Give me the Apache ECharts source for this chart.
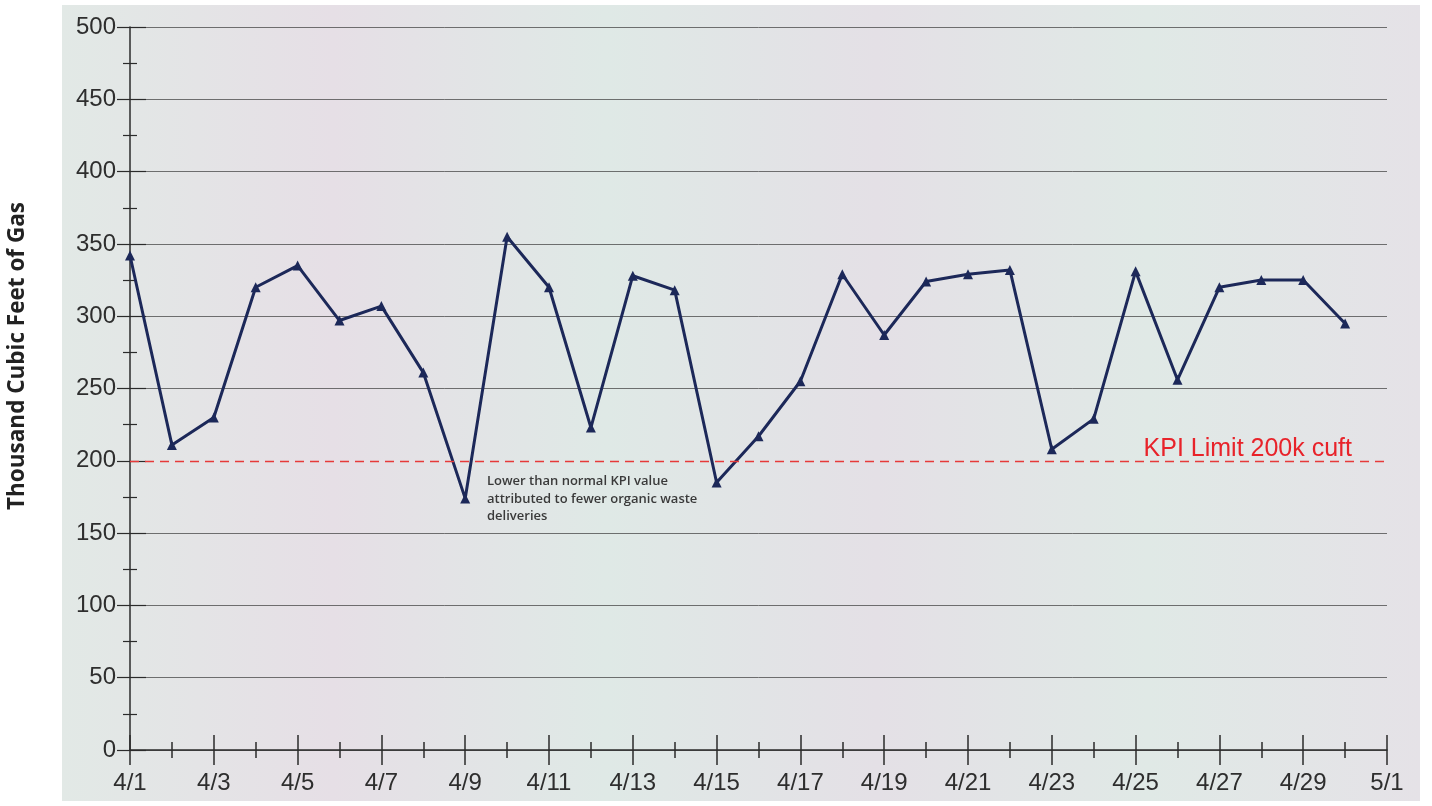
<!DOCTYPE html>
<html>
<head>
<meta charset="utf-8">
<script src="https://cdn.jsdelivr.net/npm/echarts@6/dist/echarts.min.js"></script>
<style>
  html, body { margin: 0; padding: 0; background: #fff; }
  #gasChart { width: 1432px; height: 806px; }
</style>
</head>
<body>
<div id="gasChart"></div>
<script>
// x axis tick labels (4/1 .. 5/1), one per day
const dayLabels = ['4/1','4/2','4/3','4/4','4/5','4/6','4/7','4/8','4/9','4/10',
    '4/11','4/12','4/13','4/14','4/15','4/16','4/17','4/18','4/19','4/20',
    '4/21','4/22','4/23','4/24','4/25','4/26','4/27','4/28','4/29','4/30','5/1'];

// daily gas production, thousand cubic feet (4/1 .. 4/30)
const gasValues = [342, 211, 230, 320, 335, 297, 307, 261, 174, 355,
    320, 223, 328, 318, 185, 217, 255, 329, 287, 324,
    329, 332, 208, 229, 331, 256, 320, 325, 325, 295];

const kpiLimit = 200;
const kpiLabel = 'KPI Limit 200k cuft';
const noteText = 'Lower than normal KPI value\nattributed to fewer organic waste\ndeliveries';
const yTitle = 'Thousand Cubic Feet of Gas';

const chartDom = document.getElementById('gasChart');
const myChart = echarts.init(chartDom);

const seriesData = gasValues.map((v, i) => [i, v]);
const axisColor = '#2b2b2b';
const gridColor = 'rgba(70,70,70,0.75)';
const labelFont = { fontFamily: '"Liberation Sans", Arial, sans-serif', fontSize: 24, color: '#2e2e2e' };

// grid line colours per tick (0..500), no grey line under the KPI limit
const splitColors = [0, 50, 100, 150, 200, 250, 300, 350, 400, 450, 500]
    .map(v => v === kpiLimit ? 'rgba(0,0,0,0)' : gridColor);

const option = {
    backgroundColor: '#ffffff',
    animation: false,
    graphic: [
        {
            type: 'rect',
            z: -10,
            shape: { x: 62, y: 5, width: 1358, height: 796 },
            style: {
                fill: {
                    type: 'linear', x: 0, y: 0, x2: 1, y2: 0,
                    colorStops: [
                        { offset: 0, color: '#e2e9e6' },
                        { offset: 0.2, color: '#e6dfe6' },
                        { offset: 0.4, color: '#dfe9e6' },
                        { offset: 0.6, color: '#e4e0e6' },
                        { offset: 0.8, color: '#e0e9e6' },
                        { offset: 1, color: '#e5e2e7' }
                    ]
                }
            }
        },
        {
            type: 'text',
            left: 487,
            top: 473,
            style: {
                text: noteText,
                fontFamily: '"Open Sans", sans-serif',
                fontWeight: 600,
                fontSize: 13,
                lineHeight: 17.5,
                fill: '#3a3a3a'
            }
        },
        {
            type: 'text',
            x: 18,
            y: 356,
            rotation: Math.PI / 2,
            style: {
                text: yTitle,
                fontFamily: '"Open Sans", sans-serif',
                fontWeight: 'bold',
                fontSize: 22.5,
                fill: '#222',
                align: 'center',
                verticalAlign: 'middle'
            }
        }
    ],
    grid: { left: 130, right: 45, top: 27, bottom: 56 },
    xAxis: [
        {
            type: 'value',
            min: 0,
            max: 30,
            interval: 2,
            axisLine: { lineStyle: { color: axisColor, width: 1.5 } },
            axisTick: { length: 15, lineStyle: { color: axisColor, width: 1.5 } },
            minorTick: { show: true, splitNumber: 2, length: 8, lineStyle: { color: axisColor, width: 1.5 } },
            splitLine: { show: false },
            axisLabel: {
                ...labelFont,
                margin: 21,
                formatter: (v) => dayLabels[v]
            }
        },
        {
            type: 'value',
            min: 0,
            max: 30,
            interval: 2,
            position: 'bottom',
            axisLine: { show: false },
            axisTick: { inside: true, length: 15, lineStyle: { color: axisColor, width: 1.5 } },
            minorTick: { show: true, splitNumber: 2, length: 8, lineStyle: { color: axisColor, width: 1.5 } },
            splitLine: { show: false },
            axisLabel: { show: false }
        }
    ],
    yAxis: [
        {
            type: 'value',
            min: 0,
            max: 500,
            interval: 50,
            axisLine: { show: true, lineStyle: { color: axisColor, width: 1.5 } },
            axisTick: { show: true, length: 13, lineStyle: { color: axisColor, width: 1.2 } },
            minorTick: { show: true, splitNumber: 2, length: 7, lineStyle: { color: axisColor, width: 1.2 } },
            splitLine: { show: true, lineStyle: { color: splitColors, width: 1 } },
            axisLabel: { ...labelFont, margin: 14 }
        },
        {
            type: 'value',
            min: 0,
            max: 500,
            interval: 50,
            position: 'left',
            axisLine: { show: false },
            axisTick: { show: true, inside: true, length: 16, lineStyle: { color: axisColor, width: 1.2 } },
            minorTick: { show: true, splitNumber: 2, length: 7, lineStyle: { color: axisColor, width: 1.2 } },
            splitLine: { show: false },
            axisLabel: { show: false }
        }
    ],
    series: [
        {
            name: 'Gas',
            type: 'line',
            data: seriesData,
            symbol: 'triangle',
            symbolSize: 10,
            lineStyle: { color: '#1c2859', width: 3 },
            itemStyle: { color: '#1c2859' },
            markLine: {
                silent: true,
                symbol: 'none',
                lineStyle: { color: '#e63a3a', type: [9, 6], width: 1.4 },
                label: {
                    show: true,
                    position: 'insideEndTop',
                    formatter: kpiLabel,
                    fontFamily: '"Liberation Sans", Arial, sans-serif',
                    fontSize: 25,
                    color: '#e8232a',
                    distance: [35, -1]
                },
                data: [{ yAxis: kpiLimit }]
            }
        }
    ]
};

myChart.setOption(option);
</script>
</body>
</html>
